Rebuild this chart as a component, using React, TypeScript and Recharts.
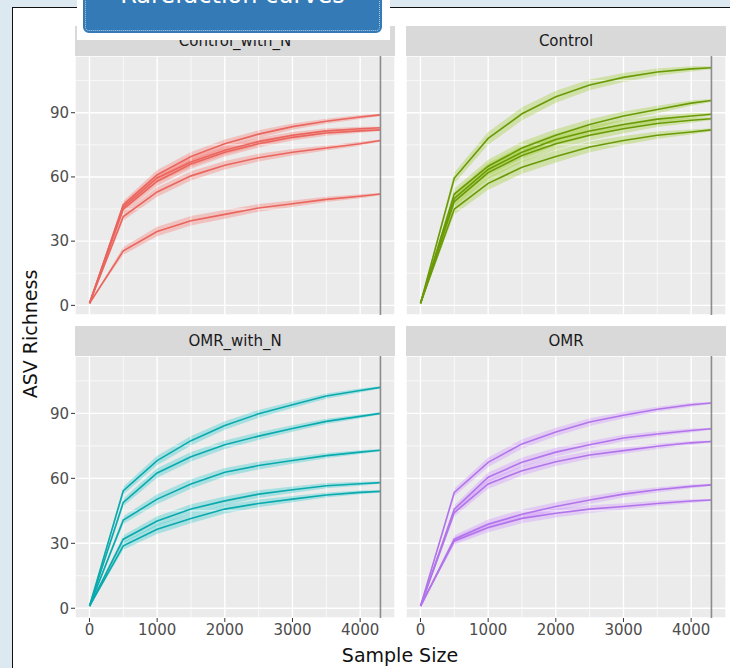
import {
  Area,
  CartesianGrid,
  ComposedChart,
  Line,
  ReferenceLine,
  XAxis,
  YAxis,
} from "recharts";

// rarefaction depths (sample size) shared by all facets
const sampleSizes = [1, 500, 1000, 1500, 2000, 2500, 3000, 3500, 4000, 4300];
const minDepth = 4300;

const xTicks = [0, 1000, 2000, 3000, 4000];
const xMinor = [500, 1500, 2500, 3500];
const yTicks = [0, 30, 60, 90];
const yMinor = [15, 45, 75, 105];

// ASV richness per sample, one row per curve
const controlWithN = [
  [1, 47, 61, 69.5, 75.5, 80, 83.5, 86, 88, 89],
  [1, 46, 59.5, 67, 72.5, 76.5, 79.5, 81.5, 82.5, 83],
  [1, 45, 58, 66, 71.5, 75.5, 78.5, 80.5, 81.5, 82],
  [1, 41.5, 53, 60.5, 65.5, 69, 71.5, 73.5, 75.5, 77],
  [1, 25.5, 34.5, 39.5, 42.5, 45.5, 47.5, 49.5, 51, 52],
];
const control = [
  [1, 59.5, 78, 89.5, 97.5, 103, 106.5, 109, 110.5, 111],
  [1, 52, 65, 73.5, 79.5, 84.5, 88.5, 91.5, 94.5, 95.7],
  [1, 50, 63.5, 71.5, 77.5, 81.5, 84.5, 87, 88.5, 89.3],
  [1, 48.5, 62, 70, 75.5, 79.5, 82.5, 85, 86.5, 87.2],
  [1, 45, 57, 64.5, 69.5, 74, 77, 79.5, 81, 82],
];
const omrWithN = [
  [1, 54.3, 68.2, 77.4, 84.4, 89.8, 94, 98, 100.6, 102],
  [1, 48.9, 62.5, 70, 75.5, 79.5, 83, 86.3, 88.6, 90],
  [1, 40.7, 50.4, 57.4, 62.8, 65.9, 68.2, 70.5, 72.1, 73],
  [1, 31.9, 40.3, 45.8, 49.6, 52.7, 54.7, 56.6, 57.5, 58],
  [1, 28.8, 36.5, 41.5, 45.8, 48.4, 50.4, 52.3, 53.5, 54],
];
const omr = [
  [1, 53.5, 67.4, 75.9, 81.4, 86, 89.1, 91.9, 94, 94.8],
  [1, 45.8, 60.5, 67.4, 72.1, 75.5, 78.6, 80.5, 82.1, 82.9],
  [1, 44.2, 57.4, 63.5, 67.7, 70.8, 72.8, 74.8, 76.4, 77],
  [1, 31.9, 38.8, 43.4, 47, 50, 52.7, 54.7, 56.3, 57],
  [1, 31.1, 37.3, 41.5, 43.9, 45.8, 47, 48.4, 49.5, 50],
];

// half width of the shaded band around each curve
const bandSpread = [0, 1.8, 2.2, 2.2, 2, 1.8, 1.5, 1.2, 0.9, 0.5];
const greenSpread = [0, 2.6, 3, 3, 2.8, 2.5, 2.1, 1.7, 1.2, 0.7];

const facets = [
  { title: "Control_with_N", curves: controlWithN, spread: bandSpread, line: "#e9655d", fill: "#f8766d", left: 75, top: 56, h: 259, showY: true, showX: false },
  { title: "Control", curves: control, spread: greenSpread, line: "#6b9a08", fill: "#9ccc2a", left: 406, top: 56, h: 259, showY: false, showX: false },
  { title: "OMR_with_N", curves: omrWithN, spread: bandSpread, line: "#0aa9ad", fill: "#2cc8cc", left: 75, top: 356, h: 262, showY: true, showX: true },
  { title: "OMR", curves: omr, spread: bandSpread, line: "#b274ea", fill: "#cf8fff", left: 406, top: 356, h: 262, showY: false, showX: true },
];

const plotW = 320;
const yAxisW = 40;
const xAxisH = 32;
const font = "DejaVu Sans, sans-serif";
const tickStyle = { fill: "#4d4d4d", fontSize: 15, fontFamily: font };

function buildRows(curves: number[][], spread: number[]) {
  return sampleSizes.map((x, i) => {
    const row: Record<string, number | number[]> = { x };
    curves.forEach((c, k) => {
      row[`s${k}`] = c[i];
      row[`r${k}`] = [c[i] - spread[i], c[i] + spread[i]];
    });
    return row;
  });
}

function Facet({ f }: { f: (typeof facets)[number] }) {
  const rows = buildRows(f.curves, f.spread);
  const w = plotW + (f.showY ? yAxisW : 0);
  const h = f.h + (f.showX ? xAxisH : 0);
  return (
    <>
      <div
        style={{
          position: "absolute",
          left: f.left,
          top: f.top - 30,
          width: plotW,
          height: 30,
          background: "#d9d9d9",
          color: "#1a1a1a",
          fontSize: 15,
          lineHeight: "30px",
          textAlign: "center",
        }}
      >
        {f.title}
      </div>
      <div style={{ position: "absolute", left: f.left - (f.showY ? yAxisW : 0), top: f.top }}>
        <ComposedChart width={w} height={h} data={rows} margin={{ top: 0, right: 0, bottom: 0, left: 0 }}>
          <CartesianGrid fill="#ebebeb" stroke="#ffffff" strokeWidth={1.4} />
          {xMinor.map((v) => (
            <ReferenceLine key={`vx${v}`} x={v} stroke="#ffffff" strokeWidth={0.7} />
          ))}
          {yMinor.map((v) => (
            <ReferenceLine key={`hy${v}`} y={v} stroke="#ffffff" strokeWidth={0.7} />
          ))}
          <XAxis
            type="number"
            dataKey="x"
            domain={[-214, 4515]}
            ticks={xTicks}
            allowDataOverflow
            hide={!f.showX}
            height={xAxisH}
            tickSize={4}
            axisLine={false}
            tickLine={{ stroke: "#333333" }}
            tick={tickStyle}
            interval={0}
          />
          <YAxis
            type="number"
            domain={[-4.5, 116.5]}
            ticks={yTicks}
            allowDataOverflow
            hide={!f.showY}
            width={yAxisW}
            tickSize={4}
            axisLine={false}
            tickLine={{ stroke: "#333333" }}
            tick={tickStyle}
            interval={0}
          />
          {f.curves.map((_, k) => (
            <Area
              key={`r${k}`}
              type="linear"
              dataKey={`r${k}`}
              stroke="none"
              fill={f.fill}
              fillOpacity={0.35}
              isAnimationActive={false}
            />
          ))}
          {f.curves.map((_, k) => (
            <Line
              key={`s${k}`}
              type="linear"
              dataKey={`s${k}`}
              stroke={f.line}
              strokeWidth={1.6}
              dot={false}
              isAnimationActive={false}
            />
          ))}
          <ReferenceLine x={minDepth} stroke="#8c8c8c" strokeWidth={1.6} />
        </ComposedChart>
      </div>
    </>
  );
}

export default function App() {
  return (
    <div
      style={{
        position: "absolute",
        left: 0,
        top: 0,
        width: 730,
        height: 668,
        overflow: "hidden",
        background: "#dde9f0",
        fontFamily: font,
      }}
    >
      {/* white card behind the plot */}
      <div
        style={{
          position: "absolute",
          left: 12,
          top: 7,
          width: 740,
          height: 680,
          background: "#ffffff",
          border: "1.5px solid #111111",
        }}
      />
      {facets.map((f) => (
        <Facet key={f.title} f={f} />
      ))}
      <div
        style={{
          position: "absolute",
          left: 0,
          top: 644,
          width: 800,
          textAlign: "center",
          fontSize: 19,
          color: "#111111",
          lineHeight: "22px",
        }}
      >
        Sample Size
      </div>
      <div
        style={{
          position: "absolute",
          left: 30 - 100,
          top: 334 - 11,
          width: 200,
          textAlign: "center",
          fontSize: 19,
          color: "#111111",
          lineHeight: "22px",
          transform: "rotate(-90deg)",
        }}
      >
        ASV Richness
      </div>
      {/* title banner, cut off at the top edge */}
      <div style={{ position: "absolute", left: 77, top: 0, width: 313, height: 40, background: "#ffffff" }} />
      <div
        style={{
          position: "absolute",
          left: 83,
          top: -12,
          width: 299,
          height: 45,
          background: "#337ab7",
          borderRadius: 6,
          boxSizing: "border-box",
          border: "2px solid #337ab7",
        }}
      >
        <div
          style={{
            position: "absolute",
            inset: 0,
            border: "1px dotted rgba(255,255,255,0.6)",
            borderRadius: 4,
          }}
        />
      </div>
      <div
        style={{
          position: "absolute",
          left: 83,
          top: -17,
          width: 299,
          textAlign: "center",
          color: "#ffffff",
          fontSize: 24,
          lineHeight: "24px",
        }}
      >
        Rarefaction curves
      </div>
    </div>
  );
}
